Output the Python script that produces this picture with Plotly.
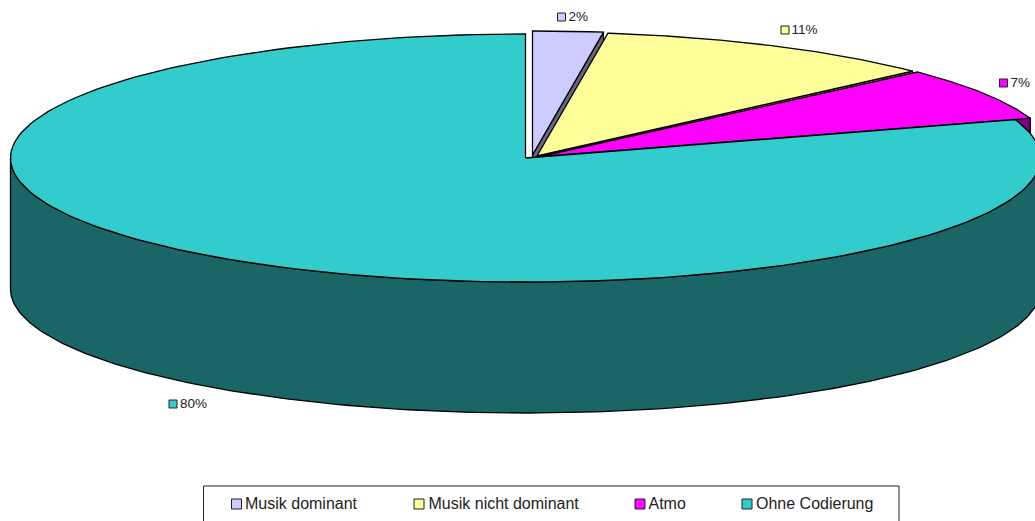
import numpy as np
import plotly.graph_objects as go

categories = ["Musik dominant", "Musik nicht dominant", "Atmo", "Ohne Codierung"]
shares = [2.2, 10.8, 7.0, 80.0]
share_labels = ["2%", "11%", "7%", "80%"]

top_colors = ["#ccccff", "#ffff99", "#ff00ff", "#33cccc"]
side_colors = ["#666680", "#80804d", "#800080", "#1a6666"]

# pie geometry, in pixels of the 1035x521 page
CX, CY = 525.5, 158
RX, RY = 515, 124
DEPTH = 131
EXPLODE = [(7, -3), (11.5, -2), (15, -1.5), (0, 0)]
LABEL_KEYS = [(561.5, 17), (785, 30), (1003.5, 83), (173, 404)]
LABEL_TEXT_X = [568.5, 791.5, 1010.5, 180]
LEGEND_KEYS = [236.5, 419, 640, 747]
LEGEND_TEXT_X = [245, 428.5, 648.5, 756]
LEGEND_Y = 504

ends = np.cumsum(shares) * 3.6
starts = ends - np.array(shares) * 3.6


def rim(a0, a1, dx=0, dy=0):
    t = np.radians(np.linspace(a0, a1, 200))
    return CX + dx + RX * np.sin(t), CY + dy - RY * np.cos(t)


def polygon(fig, x, y, color):
    fig.add_trace(go.Scatter(
        x=x, y=y, mode='lines', fill='toself', fillcolor=color,
        line=dict(color='black', width=1.3), hoverinfo='skip', showlegend=False
    ))


def cut_face(fig, i):
    # flat side of a slice, seen along its closing edge
    dx, dy = EXPLODE[i]
    x, y = rim(ends[i], ends[i], dx, dy)
    ax, ay = CX + dx, CY + dy
    polygon(fig, [ax, x[0], x[0], ax, ax], [ay, y[0], y[0] + DEPTH, ay + DEPTH, ay], side_colors[i])


def key_and_text(fig, kx, ky, tx, label, color, key_size, font_size):
    fig.add_trace(go.Scatter(
        x=[kx], y=[ky], mode='markers',
        marker=dict(symbol='square', size=key_size, color=color, line=dict(color='#222222', width=1)),
        hoverinfo='skip', showlegend=False
    ))
    fig.add_trace(go.Scatter(
        x=[tx], y=[ky + 0.5], mode='text', text=[label], textposition='middle right',
        textfont=dict(family='Liberation Sans', size=font_size, color='#222222'),
        hoverinfo='skip', showlegend=False
    ))


fig = go.Figure()

# back slices first, the big one covers whatever hangs below them
for i in range(3):
    cut_face(fig, i)
for i in range(3):
    dx, dy = EXPLODE[i]
    x, y = rim(starts[i], ends[i], dx, dy)
    polygon(fig, np.r_[CX + dx, x, CX + dx], np.r_[CY + dy, y, CY + dy], top_colors[i])

# front wall of the big slice
x, y = rim(90, 270)
polygon(fig, np.r_[x, x[::-1]], np.r_[y, y[::-1] + DEPTH], side_colors[3])
x, y = rim(starts[3], ends[3])
polygon(fig, np.r_[CX, x, CX], np.r_[CY, y, CY], top_colors[3])

# data labels with their colour keys
for i, label in enumerate(share_labels):
    key_and_text(fig, LABEL_KEYS[i][0], LABEL_KEYS[i][1], LABEL_TEXT_X[i], label, top_colors[i], 8, 13.5)

# legend box runs off the bottom of the page in the original
for i, name in enumerate(categories):
    key_and_text(fig, LEGEND_KEYS[i], LEGEND_Y, LEGEND_TEXT_X[i], name, top_colors[i], 10, 16)

fig.add_shape(type='rect', x0=203.5, x1=899, y0=486, y1=540, line=dict(color='#222222', width=1), fillcolor='rgba(0,0,0,0)')

fig.update_layout(
    width=1035,
    height=521,
    margin=dict(l=0, r=0, t=0, b=0),
    paper_bgcolor='white',
    plot_bgcolor='white',
    showlegend=False,
    xaxis=dict(range=[0, 1035], visible=False, fixedrange=True),
    yaxis=dict(range=[521, 0], visible=False, fixedrange=True),
)

fig.write_html("out.html", config=dict(displayModeBar=False), post_script="document.body.style.margin='0';")
